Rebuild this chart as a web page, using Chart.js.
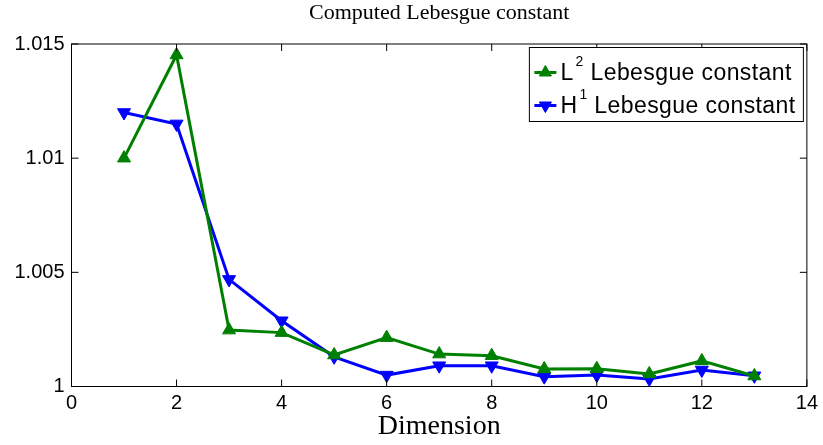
<!DOCTYPE html>
<html>
<head>
<meta charset="utf-8">
<script src="https://cdn.jsdelivr.net/npm/chart.js@4/dist/chart.umd.min.js"></script>
<style>
  html, body { margin: 0; padding: 0; background: #fff; }
  #wrap { width: 823px; height: 445px; position: relative; }
</style>
</head>
<body>
<div id="wrap"><canvas id="c" width="823" height="445"></canvas></div>
<script>
// ---- data ----
const titleText = 'Computed Lebesgue constant';
const xTitle = 'Dimension';
const dims = [1, 2, 3, 4, 5, 6, 7, 8, 9, 10, 11, 12, 13];
const l2Values = [1.0100, 1.01452, 1.00247, 1.00236, 1.00138, 1.00214, 1.00142, 1.00135, 1.00077, 1.00078, 1.00055, 1.00112, 1.00046];
const h1Values = [1.0120, 1.01150, 1.00469, 1.00288, 1.00130, 1.00050, 1.00091, 1.00091, 1.00043, 1.00050, 1.00033, 1.00072, 1.00047];
const seriesNames = ['L² Lebesgue constant', 'H¹ Lebesgue constant'];
const legendBase = ['L', 'H'];
const legendSup = ['2', '1'];
const legendRest = ' Lebesgue constant';
const xTickValues = [0, 2, 4, 6, 8, 10, 12, 14];
const xTickLabels = ['0', '2', '4', '6', '8', '10', '12', '14'];
const yTickValues = [1, 1.005, 1.01, 1.015];
const yTickLabels = ['1', '1.005', '1.01', '1.015'];

const GREEN = '#008000';
const BLUE = '#0000ff';

function pts(vals) { return dims.map((d, i) => ({ x: d, y: vals[i] })); }

const boxAndTicks = {
  id: 'boxAndTicks',
  afterDatasetsDraw(chart) {
    const { ctx, chartArea: a, scales } = chart;
    ctx.save();
    ctx.strokeStyle = '#000';
    ctx.lineWidth = 1;
    ctx.strokeRect(a.left, a.top, a.right - a.left, a.bottom - a.top);
    const tl = 7;
    ctx.beginPath();
    xTickValues.forEach(v => {
      const x = scales.x.getPixelForValue(v);
      ctx.moveTo(x, a.bottom); ctx.lineTo(x, a.bottom - tl);
      ctx.moveTo(x, a.top); ctx.lineTo(x, a.top + tl);
    });
    yTickValues.forEach(v => {
      const y = scales.y.getPixelForValue(v);
      ctx.moveTo(a.left, y); ctx.lineTo(a.left + tl, y);
      ctx.moveTo(a.right, y); ctx.lineTo(a.right - tl, y);
    });
    ctx.stroke();
    ctx.restore();
  }
};

const boxLegend = {
  id: 'boxLegend',
  afterDraw(chart) {
    const { ctx, chartArea: a } = chart;
    const w = 274, h = 74;
    const x0 = a.right - 3.5 - w, y0 = a.top + 3.5;
    ctx.save();
    ctx.fillStyle = '#fff';
    ctx.fillRect(x0, y0, w, h);
    ctx.strokeStyle = '#000';
    ctx.lineWidth = 1;
    ctx.strokeRect(x0, y0, w, h);
    chart.data.datasets.forEach((ds, i) => {
      const cy = y0 + 25 + i * 33;
      ctx.strokeStyle = ds.borderColor;
      ctx.lineWidth = 3;
      ctx.beginPath();
      ctx.moveTo(x0 + 5, cy); ctx.lineTo(x0 + 27, cy);
      ctx.stroke();
      ctx.fillStyle = ds.pointBackgroundColor;
      ctx.strokeStyle = ds.pointBorderColor;
      ctx.lineWidth = 1;
      Chart.helpers.drawPoint(ctx, { pointStyle: 'triangle', rotation: ds.pointRotation, radius: 7, borderWidth: 1 }, x0 + 16, cy);
      ctx.fillStyle = '#000';
      ctx.textBaseline = 'alphabetic';
      ctx.textAlign = 'left';
      try { ctx.letterSpacing = '0.4px'; } catch (e) {}
      ctx.font = '23px "Liberation Sans", Arial, sans-serif';
      const base = cy + 7;
      let tx = x0 + 31;
      ctx.fillText(legendBase[i], tx, base);
      tx += ctx.measureText(legendBase[i]).width + 2;
      ctx.font = '14px "Liberation Sans", Arial, sans-serif';
      ctx.fillText(legendSup[i], tx, base - 14);
      tx += ctx.measureText(legendSup[i]).width;
      ctx.font = '23px "Liberation Sans", Arial, sans-serif';
      ctx.fillText(legendRest, tx, base);
    });
    ctx.restore();
  }
};

new Chart(document.getElementById('c'), {
  type: 'line',
  data: {
    datasets: [
      {
        label: seriesNames[0],
        data: pts(l2Values),
        borderColor: GREEN,
        backgroundColor: GREEN,
        pointBackgroundColor: GREEN,
        pointBorderColor: GREEN,
        pointStyle: 'triangle',
        pointRotation: 0,
        pointRadius: 7.5,
        pointBorderWidth: 1,
        borderWidth: 3,
        tension: 0,
        clip: false
      },
      {
        label: seriesNames[1],
        data: pts(h1Values),
        borderColor: BLUE,
        backgroundColor: BLUE,
        pointBackgroundColor: BLUE,
        pointBorderColor: BLUE,
        pointStyle: 'triangle',
        pointRotation: 180,
        pointRadius: 7.5,
        pointBorderWidth: 1,
        borderWidth: 3,
        tension: 0,
        clip: false
      }
    ]
  },
  options: {
    responsive: false,
    animation: false,
    devicePixelRatio: 1,
    layout: { padding: { left: 0, right: 13.5, top: 0, bottom: 0 } },
    plugins: {
      legend: { display: false },
      tooltip: { enabled: false },
      title: {
        display: true,
        fullSize: false,
        text: titleText,
        color: '#000',
        font: { family: '"Liberation Serif", "Times New Roman", serif', size: 22, weight: 'normal', lineHeight: 1.2 },
        padding: { top: 0, bottom: 17.6 }
      }
    },
    scales: {
      x: {
        type: 'linear',
        min: 0, max: 14,
        afterBuildTicks: s => { s.ticks = xTickValues.map(v => ({ value: v })); },
        afterFit: s => { s.height = 58.5; },
        ticks: {
          color: '#000',
          font: { family: '"Liberation Sans", Arial, sans-serif', size: 20 },
          padding: 5,
          maxRotation: 0,
          autoSkip: false,
          callback: (v) => { const i = xTickValues.indexOf(v); return i >= 0 ? xTickLabels[i] : ''; }
        },
        grid: { display: false, drawTicks: false },
        border: { display: false },
        title: {
          display: true,
          text: xTitle,
          color: '#000',
          font: { family: '"Liberation Serif", "Times New Roman", serif', size: 28, weight: 'normal', lineHeight: 1.2 },
          padding: { top: 0, bottom: 2 }
        }
      },
      y: {
        type: 'linear',
        min: 1, max: 1.015,
        afterBuildTicks: s => { s.ticks = yTickValues.map(v => ({ value: v })); },
        afterFit: s => { s.width = 71.5; },
        ticks: {
          color: '#000',
          font: { family: '"Liberation Sans", Arial, sans-serif', size: 20 },
          padding: 7,
          autoSkip: false,
          callback: (v) => { const i = yTickValues.indexOf(v); return i >= 0 ? yTickLabels[i] : ''; }
        },
        grid: { display: false, drawTicks: false },
        border: { display: false }
      }
    }
  },
  plugins: [boxAndTicks, boxLegend]
});
</script>
</body>
</html>
